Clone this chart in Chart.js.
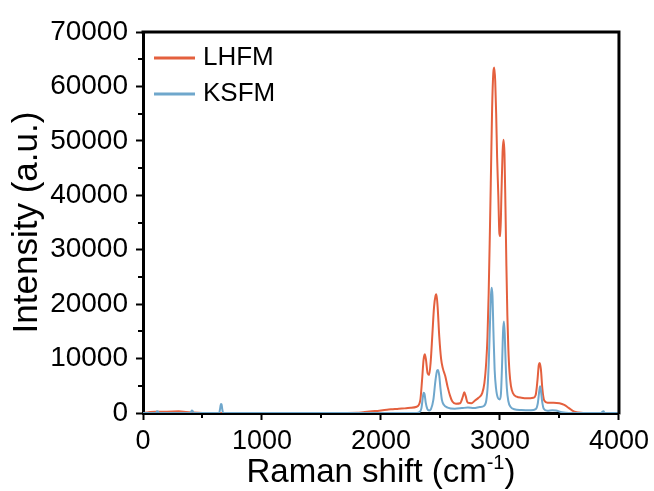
<!DOCTYPE html>
<html>
<head>
<meta charset="utf-8">
<script src="https://cdn.jsdelivr.net/npm/chart.js@4.4.1/dist/chart.umd.min.js"></script>
<style>
  html, body { margin: 0; padding: 0; background: #ffffff; }
  #wrap { width: 654px; height: 491px; }
</style>
</head>
<body>
<div id="wrap"><canvas id="c" width="654" height="491"></canvas></div>
<script>
// ---- data ----
const seriesNames = ['LHFM', 'KSFM'];
const xTicks = [0, 1000, 2000, 3000, 4000];
const yTicks = [0, 10000, 20000, 30000, 40000, 50000, 60000, 70000];

const lhfmX = [0, 50, 100, 200, 300, 360, 420, 500, 800, 1200, 1600, 1800, 1850, 1950, 2050, 2100, 2150, 2200, 2250, 2300,
  2330, 2345, 2358, 2368, 2378, 2392, 2405, 2418, 2432, 2446, 2458, 2466, 2476, 2490, 2505, 2520, 2540, 2560, 2580, 2600,
  2630, 2665, 2688, 2700, 2712, 2728, 2760, 2790, 2820, 2850, 2869, 2885, 2895, 2905, 2915, 2925, 2934, 2944, 2952, 2960,
  2968, 2976, 2986, 2995, 3003, 3012, 3022, 3030, 3038, 3046, 3054, 3062, 3070, 3080, 3092, 3110, 3140, 3180, 3230, 3280,
  3300, 3315, 3326, 3334, 3344, 3356, 3372, 3400, 3450, 3500, 3540, 3580, 3620, 3660, 3700, 4000];
const lhfmY = [0, 150, 250, 250, 300, 200, 80, 0, 0, 0, 0, 50, 150, 350, 600, 700, 800, 850, 950, 1150,
  2300, 6000, 9800, 10800, 9800, 7300, 7000, 9500, 14500, 19500, 21500, 21800, 19500, 14000, 10000, 8200, 6800, 4800, 3200, 2100,
  1700, 1800, 3000, 3800, 3100, 1900, 1800, 2300, 2800, 3600, 5500, 9500, 14000, 22000, 33000, 45000, 56000, 62500, 63500, 61000,
  55000, 47000, 40000, 33000, 32500, 40000, 48000, 50200, 47500, 38000, 27000, 18000, 12000, 7500, 5000, 3600, 3000, 2800, 2700, 2800,
  3300, 6000, 8800, 9200, 8000, 4500, 2300, 1900, 1900, 1800, 1500, 900, 300, 80, 0, 0];

const ksfmX = [0, 110, 118, 126, 135, 400, 410, 418, 426, 640, 648, 655, 660, 666, 674, 2300, 2325, 2340, 2350, 2358,
  2366, 2376, 2390, 2405, 2420, 2440, 2458, 2472, 2480, 2490, 2500, 2512, 2528, 2560, 2620, 2680, 2730, 2780, 2830, 2865,
  2885, 2897, 2907, 2916, 2924, 2930, 2937, 2945, 2955, 2967, 2982, 2998, 3008, 3017, 3026, 3033, 3040, 3048, 3058, 3070,
  3090, 3120, 3180, 3260, 3300, 3318, 3330, 3337, 3344, 3354, 3368, 3400, 3440, 3470, 3520, 3580, 3850, 3862, 3870, 3880,
  4000];
const ksfmY = [0, 0, 300, 250, 0, 0, 450, 350, 0, 0, 800, 1650, 1600, 700, 0, 0, 200, 900, 2600, 3700,
  3500, 1900, 700, 450, 700, 2400, 6000, 7800, 7900, 6800, 4500, 2400, 1500, 1000, 800, 900, 1000, 900, 1100, 1300,
  2300, 5000, 10000, 16500, 21500, 23000, 21500, 15000, 8000, 4500, 2800, 2500, 3500, 8500, 15000, 16800, 14500, 9000, 4500, 2200,
  1100, 700, 550, 500, 700, 1800, 4000, 4900, 4200, 2200, 800, 400, 500, 450, 150, 0, 0, 250, 300, 0,
  0];

// ---- drawing ----
const FONT = '"Liberation Sans", Arial, Helvetica, sans-serif';
const colors = ['#E4603E', '#6FA7CC'];

function pts(xs, ys) { return xs.map((x, i) => ({ x: x, y: ys[i] })); }

const frameAndLegend = {
  id: 'frameAndLegend',
  afterDraw(chart) {
    const ctx = chart.ctx;
    const a = chart.chartArea;
    const xs = chart.scales.x, ys = chart.scales.y;
    ctx.save();
    ctx.strokeStyle = '#000';
    // top & right frame
    ctx.lineWidth = 3;
    ctx.beginPath();
    ctx.moveTo(a.left - 1.5, a.top);
    ctx.lineTo(a.right, a.top);
    ctx.lineTo(a.right, a.bottom + 1.5);
    ctx.stroke();
    // minor ticks
    ctx.lineWidth = 2;
    ctx.beginPath();
    for (let i = 0; i < xTicks.length - 1; i++) {
      const v = (xTicks[i] + xTicks[i + 1]) / 2;
      const p = Math.round(xs.getPixelForValue(v));
      ctx.moveTo(p, a.bottom);
      ctx.lineTo(p, a.bottom + 5);
    }
    for (let i = 0; i < yTicks.length - 1; i++) {
      const v = (yTicks[i] + yTicks[i + 1]) / 2;
      const p = Math.round(ys.getPixelForValue(v));
      ctx.moveTo(a.left, p);
      ctx.lineTo(a.left - 5, p);
    }
    ctx.stroke();
    // legend
    chart.data.datasets.forEach((ds, i) => {
      const y = 58 + i * 36;
      ctx.strokeStyle = ds.borderColor;
      ctx.lineWidth = 3;
      ctx.beginPath();
      ctx.moveTo(154, y);
      ctx.lineTo(195, y);
      ctx.stroke();
      ctx.fillStyle = '#000';
      ctx.font = '26px ' + FONT;
      ctx.textBaseline = 'middle';
      ctx.textAlign = 'left';
      ctx.fillText(ds.label, 203, y);
    });
    // x axis title with superscript
    const main = 'Raman shift (cm';
    const sup = '-1';
    const end = ')';
    ctx.fillStyle = '#000';
    ctx.textBaseline = 'alphabetic';
    ctx.font = '33px ' + FONT;
    const w1 = ctx.measureText(main).width;
    const w3 = ctx.measureText(end).width;
    ctx.font = '20px ' + FONT;
    const w2 = ctx.measureText(sup).width;
    const cx = (a.left + a.right) / 2;
    let x0 = cx - (w1 + w2 + w3) / 2;
    const base = 482;
    ctx.font = '33px ' + FONT;
    ctx.fillText(main, x0, base);
    ctx.font = '20px ' + FONT;
    ctx.fillText(sup, x0 + w1, base - 13);
    ctx.font = '33px ' + FONT;
    ctx.fillText(end, x0 + w1 + w2, base);
    ctx.restore();
  }
};

new Chart(document.getElementById('c'), {
  type: 'scatter',
  data: {
    datasets: [
      { label: seriesNames[0], data: pts(lhfmX, lhfmY), borderColor: colors[0], backgroundColor: colors[0],
        showLine: true, pointRadius: 0, borderWidth: 2, cubicInterpolationMode: 'monotone', order: 2 },
      { label: seriesNames[1], data: pts(ksfmX, ksfmY), borderColor: colors[1], backgroundColor: colors[1],
        showLine: true, pointRadius: 0, borderWidth: 2, cubicInterpolationMode: 'monotone', order: 1 }
    ]
  },
  options: {
    responsive: false,
    animation: false,
    layout: { padding: { top: 32, right: 35, left: 0, bottom: 0 } },
    plugins: { legend: { display: false }, tooltip: { enabled: false } },
    scales: {
      x: {
        type: 'linear', min: 0, max: 4000,
        afterFit: (s) => { s.height = 78; },
        afterBuildTicks: (s) => { s.ticks = xTicks.map(v => ({ value: v })); },
        ticks: { font: { size: 27, family: FONT }, color: '#000', padding: 5, callback: (v) => String(v), maxRotation: 0 },
        grid: { display: true, drawOnChartArea: false, drawTicks: true, tickLength: 7, tickWidth: 2, tickColor: '#000', color: '#000' },
        border: { display: true, width: 3, color: '#000' }
      },
      y: {
        type: 'linear', min: 0, max: 70000,
        afterFit: (s) => { s.width = 143; },
        afterBuildTicks: (s) => { s.ticks = yTicks.map(v => ({ value: v })); },
        ticks: { font: { size: 28, family: FONT }, color: '#000', padding: 8, callback: (v) => String(v) },
        grid: { display: true, drawOnChartArea: false, drawTicks: true, tickLength: 7, tickWidth: 2, tickColor: '#000', color: '#000' },
        border: { display: true, width: 3, color: '#000' },
        title: { display: true, text: 'Intensity (a.u.)', font: { size: 35, family: FONT }, color: '#000', padding: { top: 6, bottom: 0 } }
      }
    }
  },
  plugins: [frameAndLegend]
});
</script>
</body>
</html>
